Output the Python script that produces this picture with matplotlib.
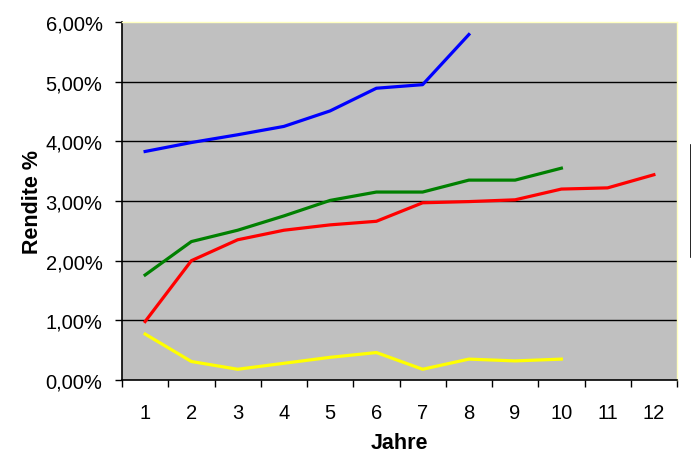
import matplotlib
matplotlib.use("Agg")
import matplotlib.pyplot as plt
from matplotlib.lines import Line2D
from matplotlib.ticker import FixedLocator, FuncFormatter

# Data (Rendite in %)
jahre = list(range(1, 13))
blau = [3.83, 3.98, 4.11, 4.25, 4.51, 4.89, 4.95, 5.79]
gruen = [1.76, 2.32, 2.51, 2.75, 3.01, 3.15, 3.15, 3.35, 3.35, 3.55]
rot = [0.98, 2.00, 2.35, 2.51, 2.60, 2.66, 2.97, 2.99, 3.02, 3.20, 3.22, 3.44]
gelb = [0.77, 0.31, 0.18, 0.28, 0.38, 0.46, 0.18, 0.35, 0.32, 0.35]
y_ticks = [0, 1, 2, 3, 4, 5, 6]

plt.rcParams['font.family'] = ['Liberation Sans', 'DejaVu Sans']

W, H = 691, 464
fig = plt.figure(figsize=(W / 100, H / 100), dpi=100)
ax = fig.add_axes([122 / W, (H - 381) / H, (677 - 122) / W, (381 - 23) / H])
ax.set_facecolor('#C0C0C0')

# Gridlines
for v in y_ticks[1:-1]:
    ax.axhline(v, color='black', linewidth=1.0, zorder=1)

# Series
ax.plot(jahre[:len(blau)], blau, color='#0000FF', linewidth=2.3, zorder=3)
ax.plot(jahre[:len(gruen)], gruen, color='#008000', linewidth=2.3, zorder=3)
ax.plot(jahre[:len(rot)], rot, color='#FF0000', linewidth=2.3, zorder=3)
ax.plot(jahre[:len(gelb)], gelb, color='#FFFF00', linewidth=2.3, zorder=3)

ax.set_xlim(0.5, 12.5)
ax.set_ylim(0, 6)

# Spines
for s in ['top', 'right']:
    ax.spines[s].set_color('#FFFFC0')
    ax.spines[s].set_linewidth(1.0)
for s in ['left', 'bottom']:
    ax.spines[s].set_color('black')
    ax.spines[s].set_linewidth(1.2)

# X axis: tick marks at category boundaries, labels at centers
ax.xaxis.set_major_locator(FixedLocator([j + 0.5 for j in [0] + jahre]))
ax.xaxis.set_major_formatter(FuncFormatter(lambda v, p: ''))
ax.xaxis.set_minor_locator(FixedLocator(jahre))
ax.xaxis.set_minor_formatter(FuncFormatter(lambda v, p: f'{int(round(v))}'))
ax.tick_params(axis='x', which='major', direction='out', length=5, width=1, color='black')
ax.tick_params(axis='x', which='minor', length=0, pad=16.5, labelsize=14.5)

# Y axis
ax.set_yticks(y_ticks)
ax.yaxis.set_major_formatter(FuncFormatter(lambda v, p: f'{v:.2f}'.replace('.', ',') + '%'))
ax.tick_params(axis='y', direction='out', length=5, width=1, color='black', pad=9, labelsize=14.5)

ax.set_xlabel('Jahre', fontsize=15.5, fontweight='bold', labelpad=7)
ax.set_ylabel('Rendite %', fontsize=15.5, fontweight='bold', labelpad=2)

# Left edge of legend box (cut off)
fig.add_artist(Line2D([690.5 / W, 690.5 / W], [(H - 146) / H, (H - 258) / H],
                      color='black', linewidth=1.2, transform=fig.transFigure))

fig.savefig('out.png', dpi=100)
